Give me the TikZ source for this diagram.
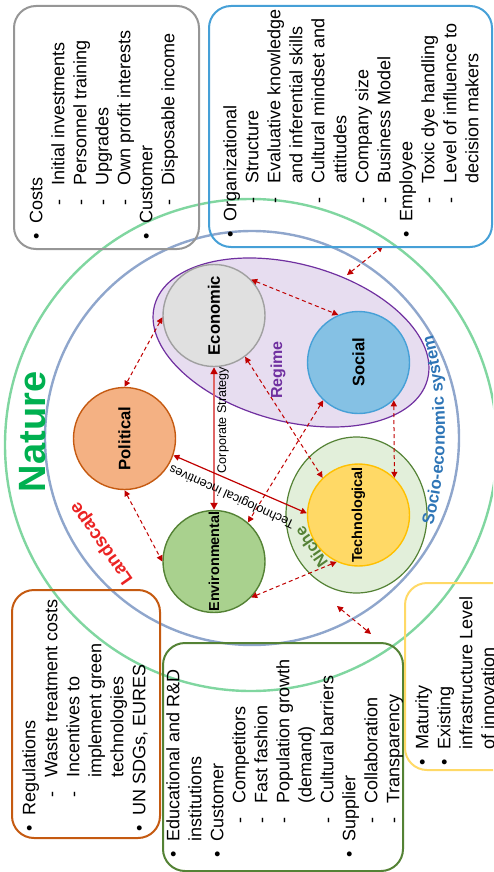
\documentclass[tikz,border=0pt]{standalone}
\usepackage{fontspec}
\setmainfont{Liberation Sans}
\usetikzlibrary{arrows.meta,decorations.text}

% colours
\definecolor{naturegreen}{RGB}{128,214,160}
\definecolor{naturetext}{RGB}{0,176,80}
\definecolor{sesline}{RGB}{143,166,204}
\definecolor{sestext}{RGB}{46,117,182}
\definecolor{regimefill}{RGB}{231,221,240}
\definecolor{regimeline}{RGB}{112,48,160}
\definecolor{nichefill}{RGB}{226,239,218}
\definecolor{nicheline}{RGB}{84,130,53}
\definecolor{ecofill}{RGB}{224,224,224}
\definecolor{ecoline}{RGB}{160,160,160}
\definecolor{socfill}{RGB}{133,193,228}
\definecolor{socline}{RGB}{70,160,215}
\definecolor{polfill}{RGB}{244,177,131}
\definecolor{polline}{RGB}{197,90,17}
\definecolor{envfill}{RGB}{169,209,142}
\definecolor{envline}{RGB}{84,130,53}
\definecolor{techfill}{RGB}{255,217,102}
\definecolor{techline}{RGB}{255,192,0}
\definecolor{linkred}{RGB}{192,0,0}
\definecolor{strategyred}{RGB}{224,102,102}
\definecolor{landred}{RGB}{235,35,35}
\definecolor{boxgray}{RGB}{150,150,150}

% list items inside the boxes
\newcommand{\bul}{\makebox[8pt][l]{\textbullet}}
\newcommand{\dsh}{\hspace*{17pt}\makebox[10pt][l]{-}}
\newcommand{\ind}{\hspace*{27pt}}
\newcommand{\indb}{\hspace*{8pt}}

\tikzset{
  factor/.style={circle, draw, line width=0.7pt, minimum size=51pt, inner sep=0pt,
    font=\bfseries\fontsize{8.3}{10}\selectfont},
  smallfactor/.style={factor, font=\bfseries\fontsize{7.2}{9}\selectfont},
  link/.style={draw=linkred, line width=0.5pt, dash pattern=on 2pt off 1.5pt, <->},
  strategy/.style={draw=strategyred, line width=1.1pt,
    arrows={Triangle[length=3.5pt,width=3.5pt,color=linkred]-Triangle[length=3.5pt,width=3.5pt,color=linkred]}},
  incentive/.style={draw=linkred, line width=0.6pt, <->},
  edgelabel/.style={inner sep=0pt, font=\fontsize{6.3}{7.5}\selectfont},
  ring/.style={line width=1.2pt},
  infobox/.style={line width=1pt, rounded corners=11pt},
  boxtext/.style={rotate=90, anchor=north west, align=left, inner sep=0pt,
    font=\fontsize{9}{11}\selectfont},
}

\begin{document}
\begin{tikzpicture}[x=0.5pt, y=0.5pt, >={Triangle[length=3pt,width=3pt]}]
    \useasboundingbox (0,0) rectangle (493,-872);
    \clip (0,0) rectangle (493,-872);

    % Nature and socio-economic system
    \draw[ring, naturegreen] (251,-445) circle (246);
    \draw[ring, sesline] (252,-438) circle (207);

    % Regime and niche
    \draw[regimeline, fill=regimefill, line width=0.6pt, rotate around={-15.3:(291,-342.5)}]
        (291,-342.5) ellipse (141.4 and 78.6);
    \draw[nicheline, fill=nichefill, line width=0.6pt] (356.5,-515) ellipse (70.5 and 78);

    % Factors
    \node[factor, fill=ecofill, draw=ecoline] (eco) at (214,-315.5) {\rotatebox{90}{Economic}};
    \node[factor, fill=socfill, draw=socline] (soc) at (358.5,-362.5) {\rotatebox{90}{Social}};
    \node[factor, fill=polfill, draw=polline] (pol) at (124.5,-438.5) {\rotatebox{90}{Political}};
    \node[smallfactor, fill=envfill, draw=envline] (env) at (214,-561.5) {\rotatebox{90}{Environmental}};
    \node[smallfactor, fill=techfill, draw=techline] (tech) at (358.5,-515) {\rotatebox{90}{Technological}};

    % Free ends of the outer links
    \coordinate (regimept) at (347,-275);
    \coordinate (orgpt) at (383,-246);
    \coordinate (nichept) at (337,-606);
    \coordinate (maturept) at (371,-634);

    % Dashed links
    \draw[link] (eco.44) -- (soc.113);
    \draw[link] (eco.182) -- (pol.90);
    \draw[link] (pol.270) -- (env.180);
    \draw[link] (env.-44) -- (tech.245);
    \draw[link] (eco.-53) -- (tech.134);
    \draw[link] (soc.227) -- (env.49);
    \draw[link] (soc.-47) -- (tech.46);
    \draw[link] (regimept) -- (orgpt);
    \draw[link] (nichept) -- (maturept);

    % Solid links with labels
    \draw[strategy] (eco.south) -- (env.north);
    \node[edgelabel, rotate=90] (cstrat) at (223,-420) {Corporate Strategy};
    \draw[incentive] (pol.-19) -- (tech.178);
    \node[edgelabel, rotate=155.5] (tinc) at (232,-496) {Technological incentives};

    % Layer labels
    \node[rotate=90, text=naturetext, font=\bfseries\fontsize{19}{22}\selectfont] (nature) at (33,-432) {Nature};
    \node[rotate=125, text=landred, font=\bfseries\fontsize{9.2}{11}\selectfont] (landscape) at (102,-543) {Landscape};
    \node[rotate=90, text=regimeline, font=\bfseries\fontsize{8}{10}\selectfont] (regime) at (278,-370) {Regime};
    \node[rotate=124.7, text=nicheline, font=\bfseries\fontsize{8.2}{10}\selectfont] (niche) at (311,-547) {Niche};
    \path[decorate, decoration={text along path, text align=center,
        text={|\fontsize{8.4}{10}\selectfont\bfseries\color{sestext}|Socio-economic system}}]
        (63,-430) ++(-14.4:382) arc[start angle=-14.4, end angle=14.4, radius=382];

    % Boxes
    \draw[infobox, boxgray] (14,-6) rectangle (199,-249);
    \node[boxtext] (costs) at (26.6,-240) {\strut\bul Costs\\
        \dsh Initial investments\\
        \dsh Personnel training\\
        \dsh Upgrades\\
        \dsh Own profit interests\\
        \bul Customer\\
        \dsh Disposable income};

    \draw[infobox, socline] (209,-6) rectangle (492,-247);
    \node[boxtext] (org) at (220.6,-238) {\strut\bul Organizational\\
        \dsh Structure\\
        \dsh Evaluative knowledge\\
        \ind and inferential skills\\
        \dsh Cultural mindset and\\
        \ind attitudes\\
        \dsh Company size\\
        \dsh Business Model\\
        \bul Employee\\
        \dsh Toxic dye handling\\
        \dsh Level of influence to\\
        \ind decision makers};

    \draw[infobox, polline] (12,-590) rectangle (160,-838);
    \node[boxtext] (regul) at (19.6,-832) {\strut\bul Regulations\\
        \dsh Waste treatment costs\\
        \dsh Incentives to\\
        \ind implement green\\
        \ind technologies\\
        \bul UN SDGs, EURES};

    \draw[infobox, envline] (163,-643) rectangle (403,-871);
    \node[boxtext] (market) at (163.6,-858) {\strut\bul Educational and R\&D\\
        \indb institutions\\
        \bul Customer\\
        \dsh Competitors\\
        \dsh Fast fashion\\
        \dsh Population growth\\
        \ind (demand)\\
        \dsh Cultural barriers\\
        \bul Supplier\\
        \dsh Collaboration\\
        \dsh Transparency};

    \draw[infobox, techfill] (405,-583) rectangle (520,-770);
    \node[boxtext] (maturity) at (412.6,-766) {\strut\bul Maturity\\
        \bul Existing\\
        \indb infrastructure Level\\
        \indb of innovation};
\end{tikzpicture}
\end{document}
